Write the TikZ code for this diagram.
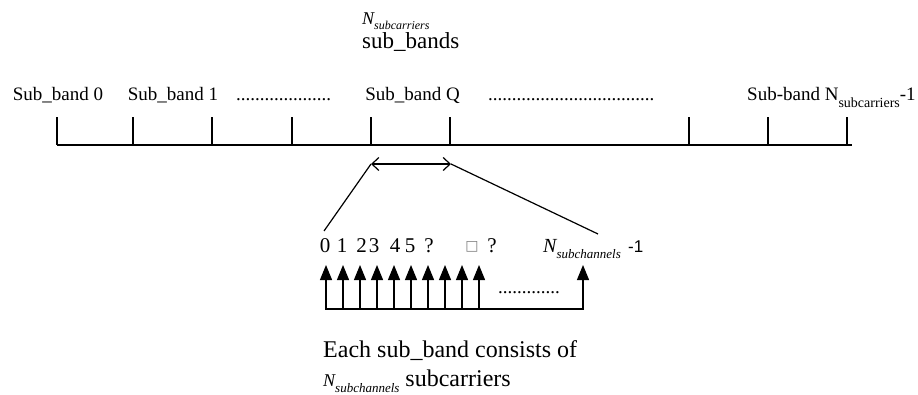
\documentclass[tikz,border=0pt]{standalone}
\usepackage{fontspec}
\setmainfont{Liberation Serif}
\newfontfamily\sansf{Liberation Sans}
\newfontfamily\symf{DejaVu Sans}
\usetikzlibrary{arrows.meta}
\newcommand\fsz[1]{\fontsize{#1}{#1}\selectfont}
% italic N with a lowered italic subscript: N size, subscript size, drop, subscript
\newcommand\Nsub[4]{{\fsz{#1}\itshape N}\raisebox{-#3}{\fsz{#2}\itshape #4}}
\begin{document}
\begin{tikzpicture}[x=1pt,y=1pt,
  txt/.style={inner sep=0pt, anchor=base west},
  ctxt/.style={inner sep=0pt, anchor=base},
  axis/.style={line width=2.4pt},
  tick/.style={line width=1.3pt},
  span/.style={{Straight Barb[length=7pt,width=13pt]}-{Straight Barb[length=7pt,width=13pt]}, line width=1.2pt},
  link/.style={line width=1.2pt},
  carrier/.style={-{Triangle[length=15pt,width=12pt]}, line width=1.2pt},
  base/.style={line width=2pt}]
\fill[white] (0,0) rectangle (918,394);
\useasboundingbox (0,0) rectangle (918,394);

% band axis with sub-band boundaries
\coordinate (L) at (57,249);
\coordinate (R) at (852,249);
\draw[axis] (L) -- (R);
\foreach \x in {57,133,212,292,371,450,689,768,847}
  \draw[tick] (\x,249) -- (\x,277);

% sub-band labels
\node[ctxt] (sb0) at (58,293) {\fsz{19}Sub\_band 0};
\node[ctxt] (sb1) at (173,293) {\fsz{19}Sub\_band 1};
\node[txt] (dots1) at (236,293) {\fsz{19}....................};
\node[ctxt] (sbq) at (412.5,293) {\fsz{19}Sub\_band Q};
\node[txt] (dots2) at (488,293) {\fsz{19}...................................};
\node[txt] (sbn) at (747,293) {\fsz{19}Sub-band N\raisebox{-7pt}{\fsz{14}subcarriers}-1};

% number of sub-bands
\node[txt] (nsc) at (362,369) {\Nsub{18}{12}{5pt}{subcarriers}};
\node[txt] (sbs) at (362,345) {\fsz{23}sub\_bands};

% zoom into sub-band Q
\coordinate (qa) at (371,230);
\coordinate (qb) at (451,230);
\coordinate (c0) at (324,163);
\coordinate (cn) at (598,160);
\draw[span] (qa) -- (qb);
\draw[link] (qa) -- (c0);
\draw[link] (qb) -- (cn);

% subcarrier indices
\node[ctxt] (k0) at (325,142) {\fsz{21}0};
\node[ctxt] (k1) at (342,142) {\fsz{21}1};
\node[ctxt] (k2) at (361.5,142) {\fsz{21}2};
\node[ctxt] (k3) at (374,142) {\fsz{21}3};
\node[ctxt] (k4) at (395,142) {\fsz{21}4};
\node[ctxt] (k5) at (410,142) {\fsz{21}5};
\node[ctxt] (k6) at (429,142) {\fsz{21}?};
\node[ctxt] (k7) at (472,143) {\fsz{14}\symf\color{gray}□};
\node[ctxt] (k8) at (492,142) {\fsz{21}?};
\node[txt] (kn) at (543,142) {\Nsub{20}{13}{6pt}{subchannels}};
\node[txt] (kn1) at (628,142) {\fsz{17}\sansf -1};

% subcarriers
\foreach \x in {326,343,360,377,394,411,428,445,462,479,583}
  \draw[carrier] (\x,85) -- (\x,129);
\coordinate (bl) at (325,85);
\coordinate (br) at (584,85);
\draw[base] (bl) -- (br);
\node[txt] (dots3) at (498,101) {\fsz{19}.............};

% caption
\node[txt] (cap1) at (323,37) {\fsz{24}Each sub\_band consists of};
\node[txt] (cap2) at (323,8) {\Nsub{18}{13}{6pt}{subchannels}\hspace{6pt}{\fsz{24}subcarriers}};
\end{tikzpicture}
\end{document}
